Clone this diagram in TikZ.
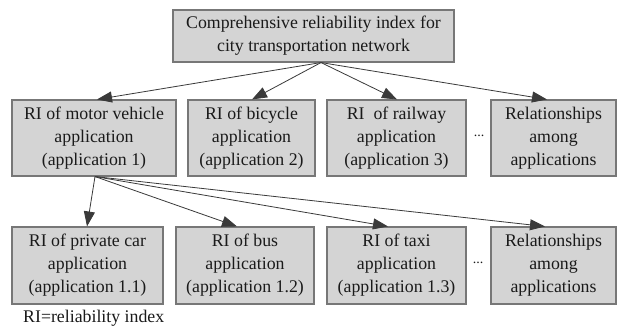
\documentclass[tikz,border=0pt]{standalone}
\usepackage{fontspec}
\setmainfont{Liberation Serif}
\newfontfamily\tnr{Liberation Serif}
\usetikzlibrary{arrows.meta}
\definecolor{boxfill}{HTML}{D4D4D4}
\definecolor{boxline}{HTML}{777777}
\definecolor{arrline}{HTML}{3A3A3A}
\definecolor{txt}{HTML}{1A1A1A}
\begin{document}
\begin{tikzpicture}[x=1pt,y=-1pt,
  box/.style={draw=boxline,fill=boxfill,line width=1.1pt,inner sep=0pt,align=center,text=txt,font=\tnr\fontsize{17.8}{23}\selectfont},
  arr/.style={draw=arrline,line width=0.8pt,-{Triangle[length=15pt,width=11pt]}},
  dots/.style={text=txt,font=\tnr\fontsize{14}{16}\selectfont,inner sep=0pt},
  legend/.style={text=txt,font=\tnr\fontsize{17.8}{23}\selectfont,inner sep=0pt,anchor=west}
]
\useasboundingbox (0,0) rectangle (617,333);
\fill[white] (0,0) rectangle (617,333);

\node[box,minimum width=281pt,minimum height=52pt] (top) at (313.5,36)
  {Comprehensive reliability index for\\city transportation network};

\node[box,minimum width=164pt,minimum height=76pt] (r1a) at (94,138)
  {RI of motor vehicle\\application\\(application 1)};
\node[box,minimum width=127pt,minimum height=76pt] (r1b) at (251.5,138)
  {RI of bicycle\\application\\(application 2)};
\node[box,minimum width=139pt,minimum height=76pt] (r1c) at (396.5,138)
  {RI\ \ of railway\\application\\(application 3)};
\node[box,minimum width=125pt,minimum height=76pt] (r1d) at (553.5,138)
  {Relationships\\among\\applications};
\node[dots] (d1) at (479,136) {...};

\node[box,minimum width=151pt,minimum height=77pt] (r2a) at (87.5,265.5)
  {RI of private car\\application\\(application 1.1)};
\node[box,minimum width=138pt,minimum height=77pt] (r2b) at (245,265.5)
  {RI of bus\\application\\(application 1.2)};
\node[box,minimum width=139pt,minimum height=77pt] (r2c) at (396.5,265.5)
  {RI of taxi\\application\\(application 1.3)};
\node[box,minimum width=125pt,minimum height=77pt] (r2d) at (553.5,265.5)
  {Relationships\\among\\applications};
\node[dots] (d2) at (478,263) {...};

\node[legend] (leg) at (23,318) {RI=reliability index};

\coordinate (s0) at ([xshift=7.5pt]top.south);
\draw[arr] (s0) -- ([xshift=3pt]r1a.north);
\draw[arr] (s0) -- ([xshift=0.5pt]r1b.north);
\draw[arr] (s0) -- ([xshift=0.5pt]r1c.north);
\draw[arr] (s0) -- ([xshift=-6.5pt]r1d.north);

\coordinate (s1) at ([xshift=1pt]r1a.south);
\draw[arr] (s1) -- ([xshift=-0.5pt]r2a.north);
\draw[arr] (s1) -- ([xshift=-8pt]r2b.north);
\draw[arr] (s1) -- ([xshift=-8.5pt]r2c.north);
\draw[arr] (s1) -- ([xshift=-8.5pt]r2d.north);
\end{tikzpicture}
\end{document}
